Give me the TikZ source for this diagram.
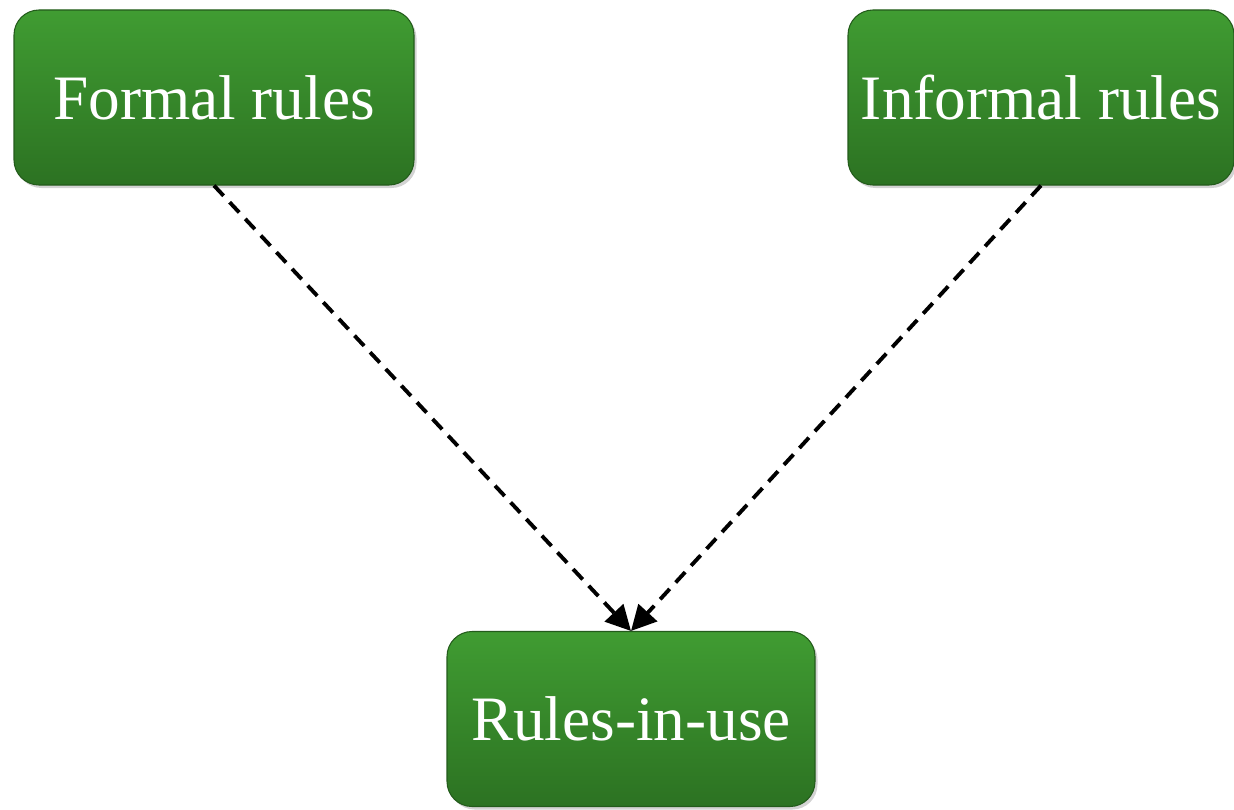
\documentclass[tikz,border=0pt]{standalone}
\usepackage{fontspec}
\setmainfont{Liberation Serif}
\usetikzlibrary{arrows.meta, shadows}

\definecolor{ruletop}{RGB}{64,156,50}
\definecolor{rulebottom}{RGB}{44,114,34}

\begin{document}
\begin{tikzpicture}[auto, thick, rule node/.style={rectangle, rounded corners=.5cm, draw=rulebottom!80!black, line width=.6pt, top color=ruletop, bottom color=rulebottom, text=white, minimum height=3.5cm, font=\fontsize{36}{40}\selectfont, drop shadow={opacity=.35, shadow xshift=.05cm, shadow yshift=-.06cm}}, use link/.style={dashed, line width=2.2pt, dash pattern=on 8pt off 5pt, -{Triangle[length=.5cm, width=.5cm]}}]
\useasboundingbox (0,0) rectangle (24.68,16.18);
\node[rule node, minimum width=8cm] (formal) at (4.28,14.23) {Formal rules};
\node[rule node, minimum width=7.72cm] (informal) at (20.82,14.23) {Informal rules};
\node[rule node, minimum width=7.36cm] (inuse) at (12.62,1.8) {Rules-in-use};
\foreach \s in {formal, informal}{
    \draw[use link] (\s.south) -- (inuse.north);}
\end{tikzpicture}
\end{document}
